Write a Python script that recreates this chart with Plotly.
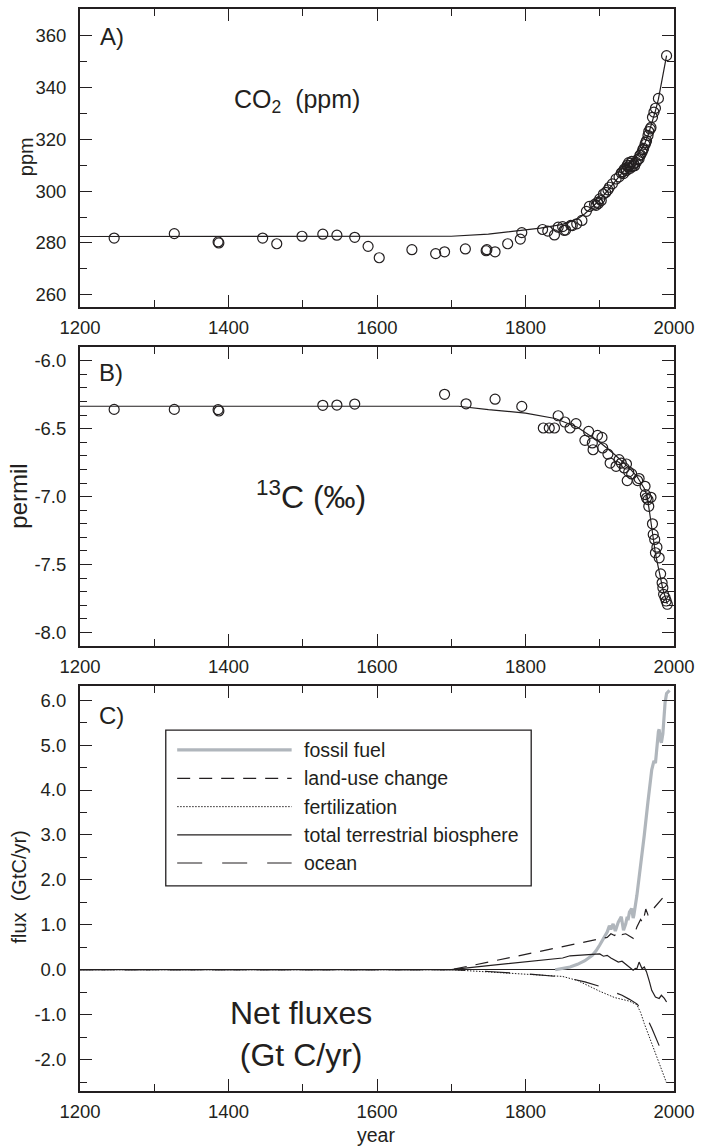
import plotly.graph_objects as go

# ---------------- data ----------------
# Panel A: atmospheric CO2 (ppm), ice-core / atmospheric observations
co2_obs_year = [1246, 1327, 1386, 1387, 1446, 1465, 1499, 1527, 1546, 1570, 1588, 1603,
                1647, 1679, 1691, 1719, 1747, 1748, 1759, 1776, 1793, 1795, 1823, 1830,
                1839, 1844, 1850, 1852, 1854, 1861, 1863, 1869, 1876, 1882, 1886, 1893,
                1895, 1897, 1898, 1900, 1902, 1905, 1908, 1911, 1913, 1917, 1922, 1926,
                1929, 1931, 1932, 1933, 1935, 1936, 1937, 1938, 1939, 1940, 1941, 1942,
                1943, 1944, 1946, 1947, 1949, 1951, 1953, 1954, 1955, 1957, 1958, 1959,
                1961, 1962, 1963, 1965, 1966, 1968, 1969, 1971, 1973, 1975, 1979, 1990]
co2_obs_ppm = [281.9, 283.6, 280.4, 280.0, 281.9, 279.7, 282.6, 283.4, 283.0, 282.2, 278.7, 274.3,
               277.4, 275.9, 276.6, 277.7, 277.0, 277.4, 276.6, 279.7, 281.5, 284.0, 285.2, 284.6,
               283.1, 286.1, 286.3, 284.9, 285.0, 286.8, 286.7, 287.4, 288.7, 292.2, 294.1, 294.9,
               294.5, 295.7, 295.2, 297.0, 296.4, 298.9, 299.5, 300.5, 301.5, 302.8, 304.7, 305.5,
               307.0, 307.5, 306.8, 308.5, 308.7, 308.0, 310.0, 309.3, 311.0, 309.9, 308.8, 310.8,
               311.5, 309.5, 310.5, 309.8, 311.1, 312.2, 312.5, 313.8, 314.0, 315.0, 316.0, 316.5,
               318.0, 318.8, 319.5, 321.5, 323.0, 324.0, 324.6, 328.5, 330.5, 332.0, 335.8, 352.3]
co2_fit_year = [1200, 1700, 1750, 1790, 1820, 1850, 1870, 1880, 1890, 1900, 1910, 1920,
                1930, 1940, 1950, 1960, 1965, 1970, 1975, 1979, 1990]
co2_fit_ppm = [282.5, 282.6, 283.4, 284.7, 285.7, 287.2, 289.3, 291.3, 293.8, 296.6, 300.0, 303.5,
               307.0, 310.5, 313.5, 318.0, 321.5, 326.0, 331.0, 335.5, 352.3]

# Panel B: delta 13C (permil)
d13_obs_year = [1246, 1327, 1386, 1387, 1527, 1546, 1570, 1691, 1720, 1759, 1795, 1824,
                1832, 1839, 1844, 1853, 1860, 1868, 1880, 1885, 1890, 1891, 1897, 1903,
                1904, 1911, 1914, 1922, 1926, 1929, 1933, 1936, 1939, 1937, 1943, 1951,
                1953, 1961, 1961.5, 1963, 1965, 1969, 1966, 1971, 1972, 1974, 1977, 1975,
                1980, 1982, 1984, 1985, 1986, 1988, 1989.5, 1991]
d13_obs_val = [-6.358, -6.358, -6.36, -6.37, -6.328, -6.326, -6.319, -6.247, -6.317, -6.283, -6.336, -6.495,
               -6.495, -6.495, -6.405, -6.451, -6.495, -6.463, -6.586, -6.52, -6.605, -6.655, -6.549, -6.564,
               -6.642, -6.687, -6.753, -6.777, -6.728, -6.753, -6.789, -6.76, -6.818, -6.882, -6.833, -6.882,
               -6.867, -6.924, -6.985, -7.01, -7.022, -7.005, -7.071, -7.2, -7.278, -7.315, -7.372, -7.413,
               -7.45, -7.568, -7.634, -7.67, -7.719, -7.743, -7.768, -7.792]
d13_fit_year = [1200, 1710, 1750, 1800, 1840, 1870, 1900, 1920, 1940, 1950, 1960, 1964,
                1968, 1972, 1975, 1980, 1985, 1991]
d13_fit_val = [-6.335, -6.335, -6.36, -6.385, -6.425, -6.49, -6.6, -6.69, -6.79, -6.85, -6.94, -7.0,
               -7.15, -7.3, -7.42, -7.55, -7.68, -7.79]

# Panel C: net fluxes (GtC/yr)
ff_year = [1840, 1850, 1860, 1870, 1880, 1890, 1895, 1900, 1905, 1910, 1913, 1915, 1918, 1920,
           1921, 1925, 1929, 1932, 1935, 1937, 1938, 1940, 1943, 1945, 1946, 1950, 1955, 1960,
           1965, 1970, 1973, 1975, 1979, 1980, 1982, 1983, 1985, 1988, 1990, 1994]
ff_val = [0.0, 0.03, 0.06, 0.12, 0.2, 0.32, 0.42, 0.55, 0.7, 0.84, 0.98, 0.9, 1.02, 0.94,
          0.86, 1.06, 1.18, 0.88, 1.02, 1.18, 1.1, 1.28, 1.36, 1.15, 1.22, 1.65, 2.3, 3.0,
          3.75, 4.45, 4.65, 4.6, 5.3, 5.35, 5.1, 5.05, 5.25, 5.95, 6.15, 6.22]

lu_year = [1200, 1700, 1750, 1800, 1850, 1880, 1900, 1910, 1915, 1920, 1925, 1930, 1935, 1940,
           1945, 1950, 1955, 1958, 1962, 1965, 1970, 1975, 1980, 1985, 1990]
lu_val = [0, 0, 0.17, 0.34, 0.52, 0.62, 0.68, 0.72, 0.80, 0.76, 0.85, 0.78, 0.80, 0.74,
          0.70, 0.95, 1.12, 1.05, 1.35, 1.22, 1.32, 1.42, 1.52, 1.60, 1.68]

fe_year = [1200, 1700, 1750, 1800, 1850, 1870, 1900, 1920, 1940, 1950, 1955, 1960, 1970, 1980, 1990]
fe_val = [0, 0, -0.05, -0.10, -0.15, -0.24, -0.48, -0.62, -0.70, -0.78, -0.95, -1.2, -1.64, -2.09, -2.52]

tb_year = [1200, 1700, 1750, 1800, 1850, 1860, 1890, 1900, 1905, 1910, 1915, 1920, 1925, 1930,
           1935, 1940, 1945, 1948, 1950, 1953, 1955, 1957, 1960, 1963, 1967, 1970, 1975, 1980,
           1983, 1987, 1990]
tb_val = [0, 0, 0.09, 0.17, 0.26, 0.31, 0.33, 0.35, 0.30, 0.32, 0.26, 0.21, 0.17, 0.19,
          0.12, 0.06, -0.01, 0.03, 0.02, 0.17, 0.10, 0.02, 0.06, -0.05, -0.27, -0.46, -0.61, -0.64,
          -0.57, -0.64, -0.72]

oc_year = [1200, 1700, 1750, 1800, 1850, 1880, 1900, 1920, 1930, 1940, 1950, 1955, 1960, 1965,
           1970, 1975, 1980, 1985, 1990]
oc_val = [0, 0, -0.04, -0.09, -0.16, -0.27, -0.37, -0.50, -0.57, -0.66, -0.76, -0.85, -0.98, -1.12,
          -1.30, -1.50, -1.72, -1.92, -2.08]

series_names = ["fossil fuel", "land-use change", "fertilization",
                "total terrestrial biosphere", "ocean"]

x_tick_vals = [1200, 1400, 1600, 1800, 2000]
a_tick_vals = [260, 280, 300, 320, 340, 360]
b_tick_vals = [-8.0, -7.5, -7.0, -6.5, -6.0]
b_tick_text = ["-8.0", "-7.5", "-7.0", "-6.5", "-6.0"]
c_tick_vals = [-2, -1, 0, 1, 2, 3, 4, 5, 6]
c_tick_text = ["-2.0", "-1.0", "0.0", "1.0", "2.0", "3.0", "4.0", "5.0", "6.0"]

# ---------------- styling ----------------
INK = "#231f20"
GRAY = "#b0b6bc"
FONT = "Liberation Sans, Arial, Helvetica, sans-serif"
DASH_LU = "13px,9px"
DASH_FE = "1.5px,1.5px"
DASH_OC = "25px,20px"

fig = go.Figure()

mk = dict(symbol="circle-open", size=10, color=INK, line=dict(width=1.2))

fig.add_trace(go.Scatter(x=co2_fit_year, y=co2_fit_ppm, mode="lines",
                         line=dict(color=INK, width=1.2), xaxis="x", yaxis="y",
                         name="CO2 model", showlegend=False))
fig.add_trace(go.Scatter(x=co2_obs_year, y=co2_obs_ppm, mode="markers", marker=mk,
                         xaxis="x", yaxis="y", name="CO2 data", showlegend=False))

fig.add_trace(go.Scatter(x=d13_fit_year, y=d13_fit_val, mode="lines",
                         line=dict(color=INK, width=1.2), xaxis="x2", yaxis="y2",
                         name="13C model", showlegend=False))
fig.add_trace(go.Scatter(x=d13_obs_year, y=d13_obs_val, mode="markers", marker=mk,
                         xaxis="x2", yaxis="y2", name="13C data", showlegend=False))

c_series = [
    (ff_year, ff_val, dict(color=GRAY, width=3.2)),
    (lu_year, lu_val, dict(color=INK, width=1.2, dash=DASH_LU)),
    (fe_year, fe_val, dict(color=INK, width=1.0, dash=DASH_FE)),
    (tb_year, tb_val, dict(color=INK, width=1.2)),
    (oc_year, oc_val, dict(color=INK, width=1.2, dash=DASH_OC)),
]
for name, (xs, ys, ln) in zip(series_names, c_series):
    fig.add_trace(go.Scatter(x=xs, y=ys, mode="lines", line=ln, name=name,
                             xaxis="x3", yaxis="y3", showlegend=False))

# ---------------- axes ----------------
def xax(domain_anchor):
    return dict(range=[1200, 2000], tickvals=x_tick_vals, ticks="inside", ticklen=12,
                tickwidth=1.3, tickcolor=INK, showline=True, linecolor=INK, linewidth=2,
                mirror="allticks", showgrid=False, zeroline=False, anchor=domain_anchor,
                tickfont=dict(size=18.5, color=INK, family=FONT), ticklabelstandoff=3,
                minor=dict(tickmode="linear", tick0=1200, dtick=100, ticks="inside",
                           ticklen=7, tickwidth=1.3, tickcolor=INK))

def yax(rng, domain, tickvals, ticktext, minor_tick0, minor_dtick, anchor):
    return dict(range=rng, domain=domain, tickmode="array", tickvals=tickvals, ticktext=ticktext,
                ticks="inside", ticklen=12, tickwidth=1.3, tickcolor=INK, showline=True,
                linecolor=INK, linewidth=2, mirror="allticks", showgrid=False, zeroline=False,
                anchor=anchor, tickfont=dict(size=18.5, color=INK, family=FONT),
                ticklabelstandoff=8,
                minor=dict(tickmode="linear", tick0=minor_tick0, dtick=minor_dtick,
                           ticks="inside", ticklen=7, tickwidth=1.3, tickcolor=INK))

dom_a = [0.7246, 1.0]
dom_b = [0.4114, 0.6875]
dom_c = [0.0, 0.3745]

fig.update_layout(
    xaxis=xax("y"),
    xaxis2=xax("y2"),
    xaxis3=xax("y3"),
    yaxis=yax([255.3, 370.3], dom_a, a_tick_vals, [str(v) for v in a_tick_vals], 250, 10, "x"),
    yaxis2=yax([-8.098, -5.90], dom_b, b_tick_vals, b_tick_text, -8.0, 0.1, "x2"),
    yaxis3=yax([-2.70, 6.32], dom_c, c_tick_vals, c_tick_text, -2.5, 0.5, "x3"),
)
fig.update_layout(yaxis3=dict(zeroline=True, zerolinecolor=INK, zerolinewidth=1.3))

# ---------------- annotations ----------------
ann = []
def txt(text, x, y, size, xanchor="left", angle=0, yanchor="middle"):
    ann.append(dict(text=text, x=x, y=y, xref="paper", yref="paper", showarrow=False,
                    xanchor=xanchor, yanchor=yanchor, textangle=angle,
                    font=dict(size=size, color=INK, family=FONT)))

txt("A)", 0.030, 0.9742, 24)
txt("B)", 0.0284, 0.6642, 24)
txt("C)", 0.0284, 0.3469, 24)
txt("CO<sub>2</sub>\u00a0 (ppm)", 0.2554, 0.9147, 25)
txt("<sup>13</sup>C (\u2030)", 0.2922, 0.5509, 32)
txt("Net fluxes<br>(Gt C/yr)", 0.3728, 0.0531, 32, xanchor="center")
# axis titles
txt("ppm", -0.0918, 0.8635, 20, xanchor="center", angle=-90)
txt("permil", -0.1035, 0.5498, 24, xanchor="center", angle=-90)
txt("flux\u00a0 (GtC/yr)", -0.1018, 0.1885, 20, xanchor="center", angle=-90)
ann.append(dict(text="year", x=0.498, y=0.0, xref="paper", yref="paper", showarrow=False,
                xanchor="center", yanchor="bottom", yshift=-56, borderpad=0,
                font=dict(size=19.5, color=INK, family=FONT)))

# ---------------- manual legend ----------------
shapes = [dict(type="rect", xref="paper", yref="paper", x0=0.1444, x1=0.7596, y0=0.1896, y1=0.3335,
               line=dict(color=INK, width=1.3), fillcolor="rgba(255,255,255,0)", layer="above")]
leg_y = [0.3153, 0.2889, 0.2628, 0.2368, 0.2107]
for name, (_, _, ln), yy in zip(series_names, c_series, leg_y):
    shapes.append(dict(type="line", xref="paper", yref="paper", x0=0.1636, x1=0.3563, y0=yy, y1=yy,
                       line=ln, layer="above"))
    txt(name, 0.3740, yy, 19.5)

fig.update_layout(
    width=702, height=1148,
    margin=dict(l=80, r=23, t=7, b=57),
    paper_bgcolor="white", plot_bgcolor="white",
    showlegend=False,
    annotations=ann, shapes=shapes,
    font=dict(family=FONT, color=INK),
)

fig.write_html(
    "out.html",
    config={"displayModeBar": False},
    post_script="document.body.style.margin='0';document.body.style.padding='0';"
                "document.documentElement.style.overflow='hidden';",
)
